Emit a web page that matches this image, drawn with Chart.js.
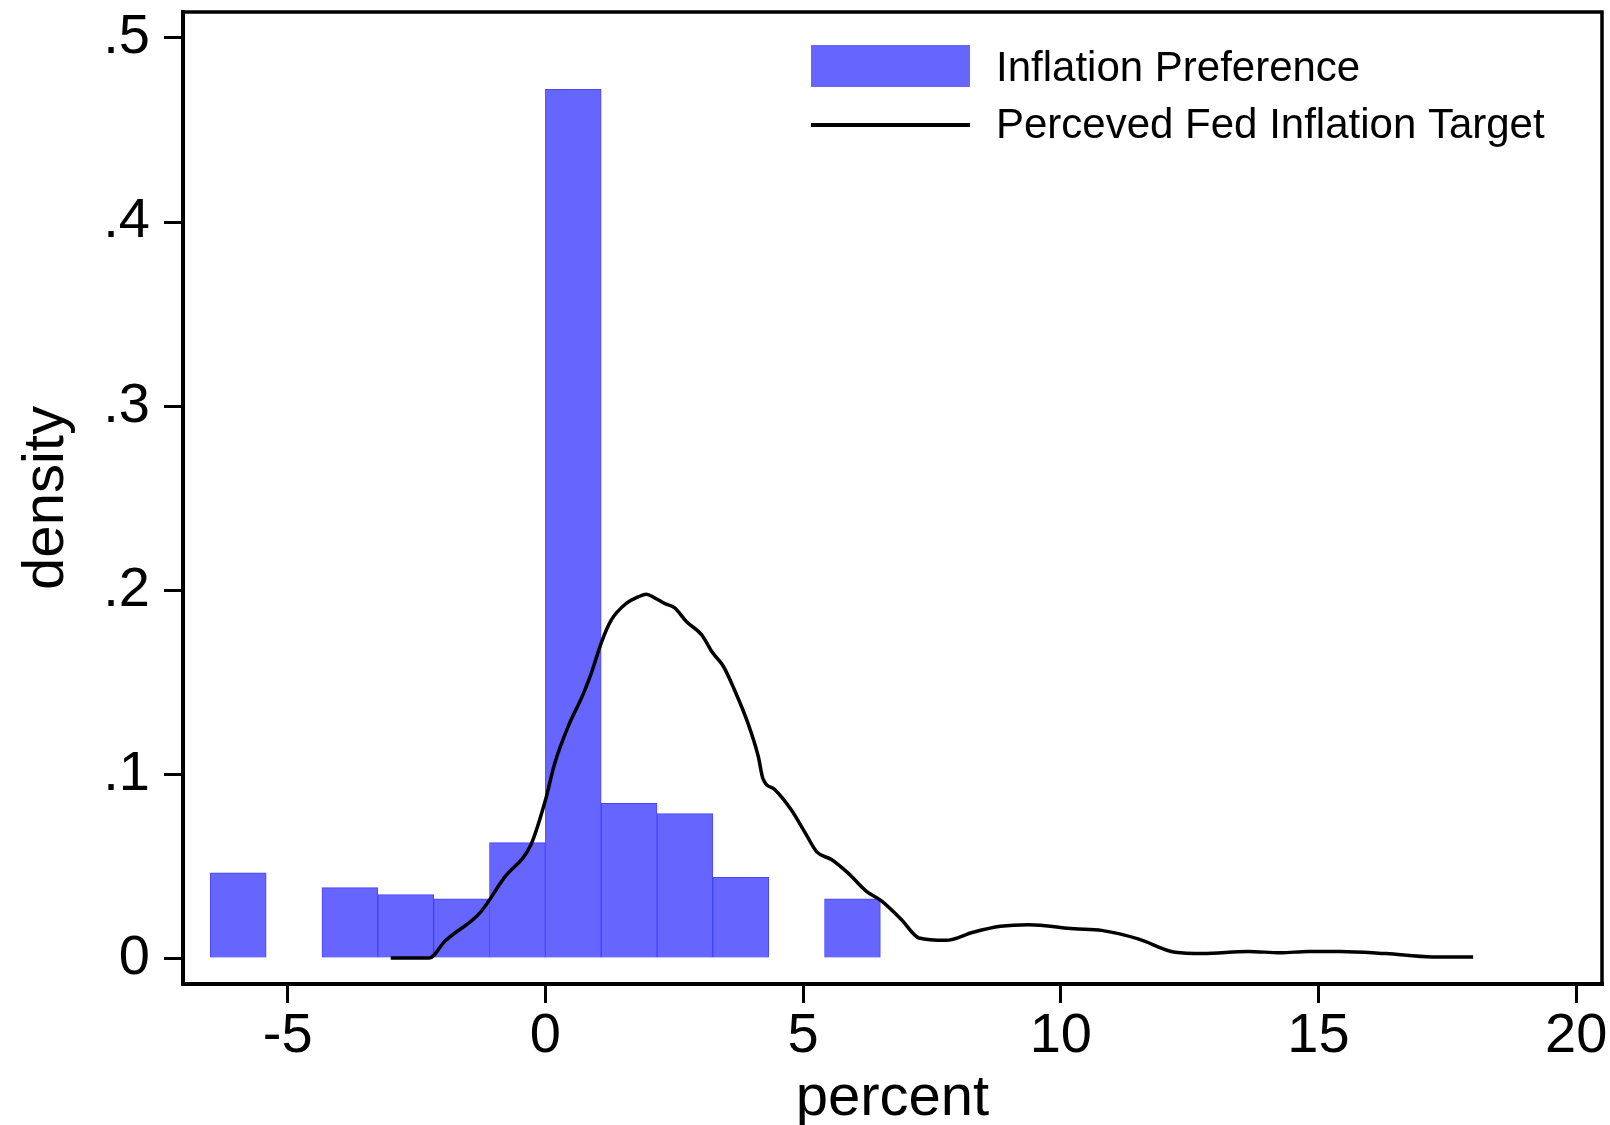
<!DOCTYPE html>
<html>
<head>
<meta charset="utf-8">
<script src="https://cdn.jsdelivr.net/npm/chart.js@4.4.0/dist/chart.umd.min.js"></script>
<style>
  html, body { margin: 0; padding: 0; background: #ffffff; }
  #wrap { width: 1610px; height: 1125px; }
</style>
</head>
<body>
<div id="wrap"><canvas id="histChart" width="1610" height="1125"></canvas></div>
<script>
// histogram: 12 bins of width 13/12 from -6.5 to 6.5 (two bins are empty)
const binWidth = 13 / 12;
const binCenters = [-5.958, -3.792, -2.708, -1.625, -0.542, 0.542, 1.625, 2.708, 3.792, 5.958];
const binDensity = [0.0467, 0.0387, 0.0349, 0.0326, 0.0631, 0.472, 0.0845, 0.0789, 0.0443, 0.0326];

// kernel density of perceived Fed target
const kdeX = [-3.0, -2.25, -1.95, -1.26, -0.80, -0.28, -0.01, 0.18, 0.44, 0.73, 0.89, 1.09, 1.28, 1.57, 1.80, 1.96,
    2.12, 2.31, 2.51, 2.74, 3.03, 3.25, 3.45, 3.67, 3.93, 4.13, 4.22, 4.45, 4.77, 5.03, 5.27, 5.55, 5.87, 6.23,
    6.52, 6.91, 7.25, 7.77, 8.30, 8.83, 9.37, 10.26, 10.79, 11.50, 12.22, 12.75, 13.64, 14.26, 14.80, 15.42,
    16.31, 17.21, 18.0];
const kdeY = [0.0005, 0.0005, 0.0096, 0.0253, 0.044, 0.062, 0.085, 0.106, 0.126, 0.1435, 0.155, 0.172, 0.184, 0.193, 0.1965, 0.198,
    0.196, 0.193, 0.1905, 0.183, 0.176, 0.166, 0.159, 0.146, 0.128, 0.11, 0.098, 0.092, 0.081, 0.069, 0.058, 0.054, 0.0467, 0.0367,
    0.0315, 0.0213, 0.0114, 0.0101, 0.0145, 0.0177, 0.0186, 0.0164, 0.0155, 0.0109, 0.0036, 0.0029, 0.0041, 0.0033, 0.0041, 0.0041,
    0.0029, 0.0011, 0.0011];

const xTicks = [-5, 0, 5, 10, 15, 20];
const yTicks = [0, 0.1, 0.2, 0.3, 0.4, 0.5];

const legendLabels = ['Inflation Preference', 'Perceved Fed Inflation Target'];
const barColor = '#6666ff';
const fontFamily = '"Liberation Sans", Arial, sans-serif';

// frame around plot region + legend drawn inside it
const framePlugin = {
    id: 'frameAndLegend',
    afterDraw(chart) {
        const ctx = chart.ctx;
        const a = chart.chartArea;
        ctx.save();
        ctx.strokeStyle = '#000000';
        ctx.lineWidth = 3.5;
        ctx.strokeRect(a.left, a.top, a.right - a.left, a.bottom - a.top);

        // legend
        ctx.fillStyle = barColor;
        ctx.fillRect(811, 45, 159, 42);
        ctx.beginPath();
        ctx.moveTo(811, 125);
        ctx.lineTo(970, 125);
        ctx.lineWidth = 4;
        ctx.strokeStyle = '#000000';
        ctx.stroke();

        ctx.fillStyle = '#000000';
        ctx.font = '42px ' + fontFamily;
        ctx.textBaseline = 'alphabetic';
        ctx.textAlign = 'left';
        ctx.fillText(legendLabels[0], 996, 81);
        ctx.fillText(legendLabels[1], 996, 138);
        ctx.restore();
    }
};

const ctx = document.getElementById('histChart');

new Chart(ctx, {
    data: {
        datasets: [
            {
                type: 'bar',
                label: legendLabels[0],
                data: binCenters.map((c, i) => ({ x: c, y: binDensity[i] })),
                backgroundColor: barColor,
                borderColor: 'rgba(50, 50, 255, 0.9)',
                borderWidth: 1,
                barPercentage: 1.0,
                categoryPercentage: 1.0,
                order: 1
            },
            {
                type: 'line',
                label: legendLabels[1],
                data: kdeX.map((x, i) => ({ x: x, y: kdeY[i] })),
                borderColor: '#000000',
                borderWidth: 3.5,
                pointRadius: 0,
                fill: false,
                cubicInterpolationMode: 'monotone',
                order: 0
            }
        ]
    },
    options: {
        responsive: false,
        animation: false,
        devicePixelRatio: 1,
        layout: {
            padding: { top: 12, right: 8, left: 0, bottom: 0 }
        },
        plugins: {
            legend: { display: false },
            tooltip: { enabled: false }
        },
        scales: {
            x: {
                type: 'linear',
                offset: false,
                min: -7.03,
                max: 20.5,
                afterBuildTicks: (scale) => {
                    scale.ticks = xTicks.map(v => ({ value: v }));
                },
                afterFit: (scale) => {
                    scale.height = 141;
                    scale.paddingLeft = 0;
                    scale.paddingRight = 0;
                },
                grid: {
                    display: true,
                    offset: false,
                    drawOnChartArea: false,
                    drawTicks: true,
                    tickLength: 19,
                    color: '#000000',
                    lineWidth: 3
                },
                border: {
                    display: true,
                    color: '#000000',
                    width: 4
                },
                ticks: {
                    color: '#000000',
                    padding: 0,
                    maxRotation: 0,
                    font: { family: fontFamily, size: 56 },
                    callback: function(value) {
                        return String(value);
                    }
                },
                title: {
                    display: true,
                    text: 'percent',
                    color: '#000000',
                    font: { family: fontFamily, size: 58, lineHeight: 0.9 },
                    padding: { top: 0, bottom: 0 }
                }
            },
            y: {
                type: 'linear',
                min: -0.0136,
                max: 0.514,
                afterBuildTicks: (scale) => {
                    scale.ticks = yTicks.map(v => ({ value: v }));
                },
                afterFit: (scale) => {
                    scale.width = 183;
                    scale.paddingTop = 0;
                    scale.paddingBottom = 0;
                },
                grid: {
                    display: true,
                    drawOnChartArea: false,
                    drawTicks: true,
                    tickLength: 19,
                    color: '#000000',
                    lineWidth: 3
                },
                border: {
                    display: true,
                    color: '#000000',
                    width: 4
                },
                ticks: {
                    color: '#000000',
                    padding: 14,
                    font: { family: fontFamily, size: 56 },
                    callback: function(value) {
                        if (value === 0) return '0';
                        return '.' + Math.round(value * 10);
                    }
                },
                title: {
                    display: true,
                    text: 'density',
                    color: '#000000',
                    font: { family: fontFamily, size: 58 },
                    padding: { top: 12, bottom: 0 }
                }
            }
        }
    },
    plugins: [framePlugin]
});
</script>
</body>
</html>
